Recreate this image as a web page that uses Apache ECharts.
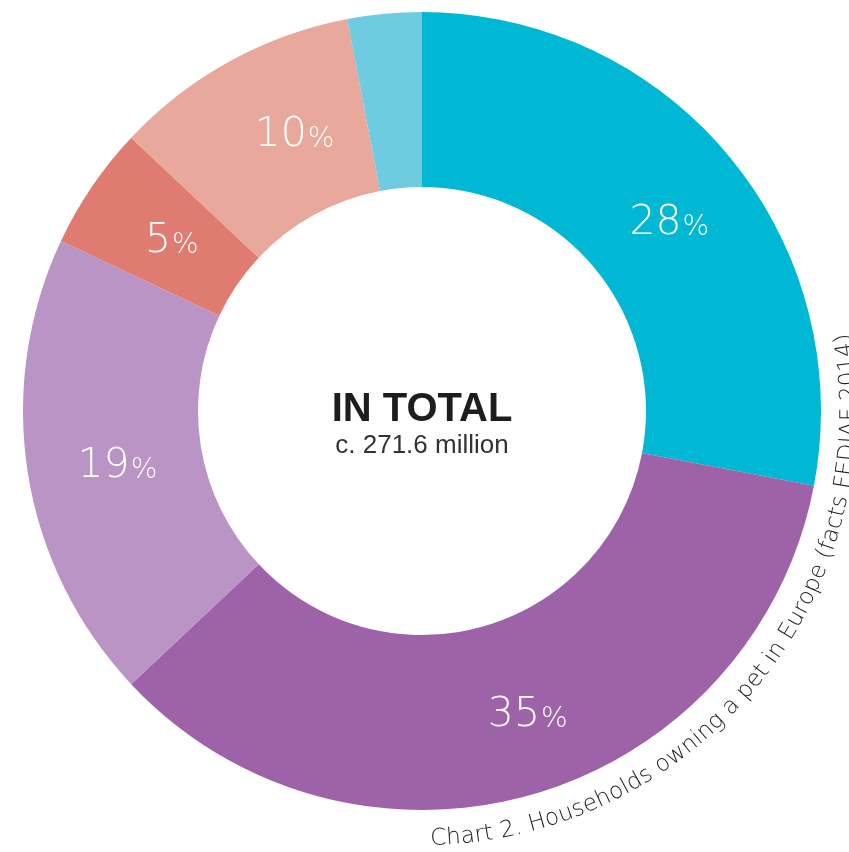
<!DOCTYPE html>
<html>
<head>
<meta charset="utf-8">
<script src="https://cdn.jsdelivr.net/npm/echarts@6/dist/echarts.min.js"></script>
<style>
  html, body { margin: 0; padding: 0; background: #ffffff; }
  #chart { width: 849px; height: 852px; }
</style>
</head>
<body>
<div id="chart"></div>
<script>
// Share of households by group, clockwise from 12 o'clock
const segmentNames = ['group-a', 'group-b', 'group-c', 'group-d', 'group-e', 'group-f'];
const shareValues = [28, 35, 19, 5, 10, 3];
const showShareLabel = [true, true, true, true, true, false];
const segmentColors = ['#00b7d4', '#9e62a8', '#ba94c4', '#e07b72', '#e8a99c', '#6fcbdf'];
const labelNudge = [[5, 13], [18, 2], [6, 6], [10, 7], [24, 0], [0, 0]];

const totalTitle = 'IN TOTAL';
const totalSubtitle = 'c. 271.6 million';
const captionText = 'Chart 2. Households owning a pet in Europe (facts FEDIAF 2014)';

const CX = 422, CY = 411;
const R_IN = 224, R_OUT = 399;

// Caption set along an arc outside the ring, one glyph at a time
const CAP_FAMILY = '"DejaVu Sans", "Noto Sans", sans-serif';
const CAP_SIZE = 23;
const CAP_WEIGHT = 200;
const CAP_R = 428;
const CAP_START = 88.9 * Math.PI / 180;

function captionGlyphs() {
  const ctx = document.createElement('canvas').getContext('2d');
  ctx.font = CAP_WEIGHT + ' ' + CAP_SIZE + 'px ' + CAP_FAMILY;
  const out = [];
  let s = 0;
  for (const ch of captionText) {
    const w = ctx.measureText(ch).width;
    const a = CAP_START - (s + w / 2) / CAP_R;
    s += w;
    if (ch === ' ') continue;
    out.push({
      type: 'text',
      x: CX + CAP_R * Math.cos(a),
      y: CY + CAP_R * Math.sin(a),
      rotation: Math.PI / 2 - a,
      silent: true,
      style: {
        text: ch,
        fill: '#222222',
        fontFamily: CAP_FAMILY,
        fontSize: CAP_SIZE,
        fontWeight: CAP_WEIGHT,
        align: 'center',
        verticalAlign: 'middle'
      }
    });
  }
  return out;
}

const pieData = shareValues.map((v, i) => ({
  name: segmentNames[i],
  value: v,
  itemStyle: { color: segmentColors[i] },
  label: { show: showShareLabel[i], offset: labelNudge[i] }
}));

const chart = echarts.init(document.getElementById('chart'), null, { renderer: 'canvas' });
chart.setOption({
  animation: false,
  backgroundColor: '#ffffff',
  series: [{
    type: 'pie',
    center: [CX, CY],
    radius: [R_IN, R_OUT],
    startAngle: 90,
    clockwise: true,
    avoidLabelOverlap: false,
    silent: true,
    itemStyle: { borderWidth: 0 },
    labelLine: { show: false },
    emphasis: { disabled: true },
    label: {
      show: true,
      position: 'inside',
      formatter: p => '{n|' + p.value + '}{p|%}',
      rich: {
        n: { fontFamily: '"DejaVu Sans", sans-serif', fontWeight: 200, fontSize: 41, color: '#ffffff', verticalAlign: 'bottom' },
        p: { fontFamily: '"DejaVu Sans", sans-serif', fontWeight: 200, fontSize: 28, color: '#ffffff', verticalAlign: 'bottom', padding: [0, 0, 2, 1] }
      }
    },
    data: pieData
  }],
  graphic: [
    {
      type: 'text', x: CX, y: 410, silent: true,
      style: { text: totalTitle, fill: '#1d1d1b', fontFamily: '"Liberation Sans", Arial, sans-serif', fontWeight: 'bold', fontSize: 40, align: 'center', verticalAlign: 'middle' }
    },
    {
      type: 'text', x: CX, y: 446, silent: true,
      style: { text: totalSubtitle, fill: '#333333', fontFamily: '"Liberation Sans", Arial, sans-serif', fontSize: 26, align: 'center', verticalAlign: 'middle' }
    }
  ].concat(captionGlyphs())
});
</script>
</body>
</html>
